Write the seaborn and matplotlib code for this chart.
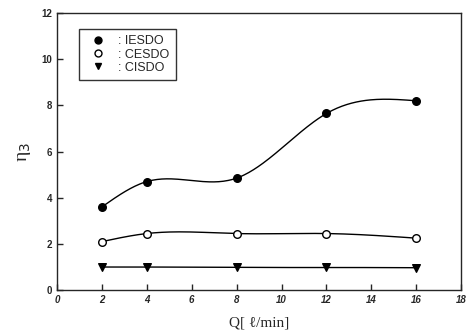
import numpy as np
import pandas as pd
import matplotlib
matplotlib.use('Agg')
import matplotlib.pyplot as plt
from matplotlib.lines import Line2D
import seaborn as sns

# values
q = [2, 4, 8, 12, 16]
iesdo = [3.6, 4.7, 4.85, 7.65, 8.2]
cesdo = [2.1, 2.45, 2.45, 2.45, 2.25]
cisdo = [1.0, 1.0, 0.98, 0.98, 0.97]


def smooth(x, y, n=200):
    # natural cubic spline through the points, only for drawing the curve
    x = np.asarray(x, float)
    y = np.asarray(y, float)
    k = len(x)
    h = np.diff(x)
    A = np.zeros((k, k))
    b = np.zeros(k)
    A[0, 0] = A[-1, -1] = 1
    for i in range(1, k - 1):
        A[i, i - 1] = h[i - 1]
        A[i, i] = 2 * (h[i - 1] + h[i])
        A[i, i + 1] = h[i]
        b[i] = 6 * ((y[i + 1] - y[i]) / h[i] - (y[i] - y[i - 1]) / h[i - 1])
    M = np.linalg.solve(A, b)
    xs = np.linspace(x[0], x[-1], n)
    idx = np.clip(np.searchsorted(x, xs) - 1, 0, k - 2)
    x0, x1 = x[idx], x[idx + 1]
    hh = x1 - x0
    t0, t1 = x1 - xs, xs - x0
    ys = (M[idx] * t0**3 + M[idx + 1] * t1**3) / (6 * hh) \
        + (y[idx] / hh - M[idx] * hh / 6) * t0 \
        + (y[idx + 1] / hh - M[idx + 1] * hh / 6) * t1
    return xs, ys


sns.set_style('ticks')
plt.rcParams['font.family'] = ['Liberation Sans', 'DejaVu Sans']

fig = plt.figure(figsize=(4.74, 3.35), dpi=100)
ax = fig.add_axes([0.12, 0.134, 0.853, 0.827])

series = [('IESDO', iesdo, 'o', 'black'),
          ('CESDO', cesdo, 'o', 'white'),
          ('CISDO', cisdo, 'v', 'black')]
handles = []
for name, vals, mk, fc in series:
    xs, ys = smooth(q, vals)
    sns.lineplot(x=xs, y=ys, ax=ax, color='black', linewidth=1.0)
    sns.scatterplot(x=q, y=vals, ax=ax, marker=mk, s=30, color=fc,
                    edgecolor='black', linewidth=1.0, zorder=3)
    handles.append(Line2D([], [], linestyle='none', marker=mk, markersize=5,
                          markerfacecolor=fc, markeredgecolor='black',
                          label=': ' + name))

ax.set_xlim(0, 18)
ax.set_ylim(0, 12)
ax.set_xticks(range(0, 19, 2))
ax.set_yticks(range(0, 13, 2))
ax.tick_params(direction='in', length=4, width=1, labelsize=7)
for lab in ax.get_xticklabels():
    lab.set_style('italic')
    lab.set_fontweight('bold')
for lab in ax.get_yticklabels():
    lab.set_fontweight('bold')
for s in ax.spines.values():
    s.set_linewidth(1.0)

ax.set_xlabel('Q[ ℓ/min]', family=['Liberation Serif', 'DejaVu Sans'],
              fontsize=11, labelpad=8)
ax.set_ylabel('η$_3$', family=['Liberation Serif', 'DejaVu Sans'],
              fontsize=14, labelpad=6)

leg = ax.legend(handles=handles, loc='upper left', bbox_to_anchor=(0.04, 0.965),
                frameon=True, fancybox=False, edgecolor='black', fontsize=9,
                handletextpad=0.6, borderpad=0.5, labelspacing=0.1)
leg.get_frame().set_linewidth(1.0)

fig.savefig('out.png', dpi=100)
